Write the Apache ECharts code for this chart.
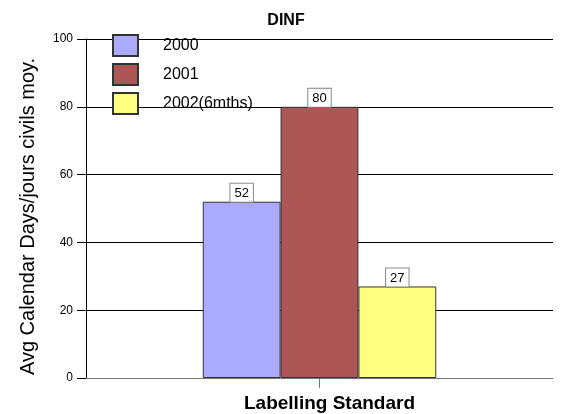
<!DOCTYPE html>
<html>
<head>
<meta charset="utf-8">
<script src="https://cdn.jsdelivr.net/npm/echarts@6/dist/echarts.min.js"></script>
<style>
  html, body { margin: 0; padding: 0; background: #fff; }
  #chart { width: 561px; height: 414px; }
</style>
</head>
<body>
<div id="chart"></div>
<script>
var categories = ['Labelling Standard']
var seriesNames = ['2000', '2001', '2002(6mths)']
var seriesValues = [[52], [80], [27]]
var seriesColors = ['#aaaaff', '#ac5656', '#ffff80']
var yTicks = { min: 0, max: 100, interval: 20 }

var FONT = 'Liberation Sans, Arial, sans-serif'

var chart = echarts.init(document.getElementById('chart'))

var series = seriesNames.map(function (name, i) {
  return {
    name: name,
    type: 'bar',
    data: seriesValues[i],
    barGap: '0%',
    barCategoryGap: '50%',
    itemStyle: { color: seriesColors[i], borderColor: '#333', borderWidth: 1 },
    label: {
      show: true,
      position: 'top',
      distance: 0,
      color: '#000',
      fontFamily: FONT,
      fontSize: 13,
      backgroundColor: '#fff',
      borderColor: '#888',
      borderWidth: 1,
      padding: [3, 4, 2, 4]
    }
  }
})

chart.setOption({
  animation: false,
  backgroundColor: '#fff',
  title: {
    text: 'DINF',
    left: 281,
    top: 8,
    textAlign: 'center',
    textStyle: { fontFamily: FONT, fontSize: 16, fontWeight: 'bold', color: '#000' }
  },
  legend: {
    orient: 'vertical',
    left: 112,
    top: 34,
    icon: 'rect',
    itemWidth: 25,
    itemHeight: 21,
    itemGap: 6,
    padding: 0,
    textStyle: { fontFamily: FONT, fontSize: 16, color: '#000', padding: [0, 0, 0, 20] }
  },
  grid: { left: 86, right: 8, top: 39, bottom: 36 },
  xAxis: {
    type: 'category',
    data: categories,
    axisLine: { lineStyle: { color: '#777', width: 1 } },
    axisTick: { show: true, alignWithLabel: true, length: 10, lineStyle: { color: '#777' } },
    axisLabel: {
      fontFamily: FONT, fontSize: 19, fontWeight: 'bold', color: '#000',
      margin: 16, padding: [0, 0, 0, 20]
    }
  },
  yAxis: {
    type: 'value',
    min: yTicks.min,
    max: yTicks.max,
    interval: yTicks.interval,
    name: 'Avg Calendar Days/jours civils moy.',
    nameLocation: 'middle',
    nameGap: 48,
    nameTextStyle: { fontFamily: FONT, fontSize: 20, color: '#000', padding: [0, 16, 0, 0] },
    axisLine: { show: true, lineStyle: { color: '#000', width: 1 } },
    axisTick: { show: true, length: 9, lineStyle: { color: '#000' } },
    axisLabel: { fontFamily: FONT, fontSize: 12, color: '#000', margin: 13 },
    splitLine: { lineStyle: { color: '#000', width: 1 } }
  },
  series: series
})
</script>
</body>
</html>
